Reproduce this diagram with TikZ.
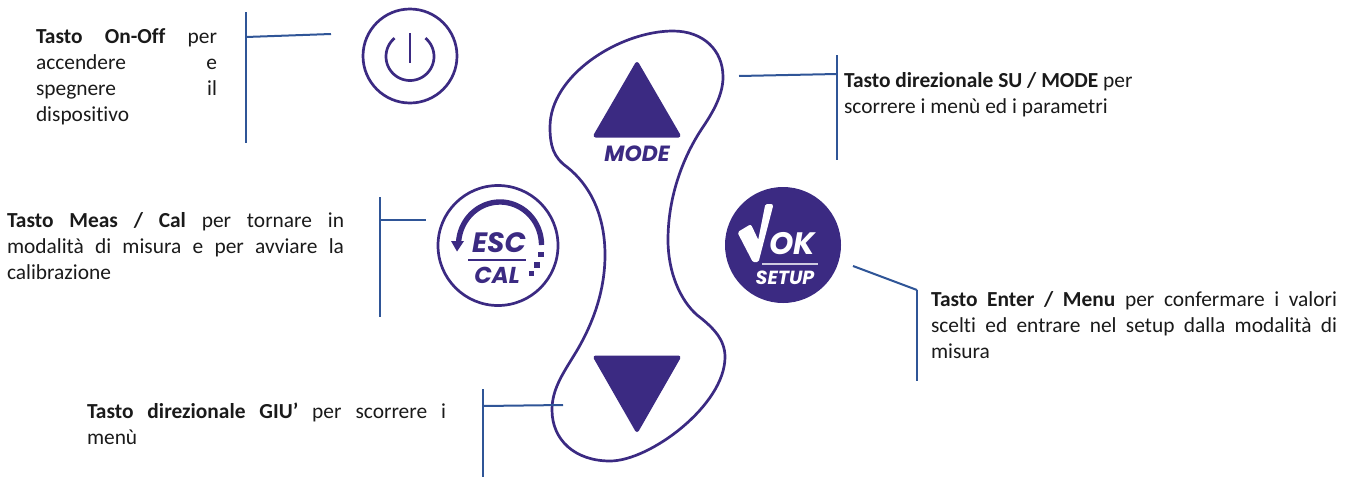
\documentclass[tikz,border=0pt]{standalone}
\usepackage{fontspec}
\setmainfont{Carlito}[Ligatures=NoCommon]
\newfontfamily\iconf{Poppins}
\usetikzlibrary{calc}
\definecolor{ink}{HTML}{3B2A82}
\definecolor{leader}{HTML}{2F5597}
\definecolor{txt}{HTML}{1A1A1A}
\tikzset{
  leaderline/.style={draw=leader,line width=1pt},
  outline/.style={draw=ink,line width=1.35pt},
  solidtri/.style={fill=ink,draw=ink,line width=2pt,line join=round},
  label/.style={anchor=north west,inner sep=0pt,outer sep=0pt,font=\fontsize{10.7}{13}\selectfont,text=txt,align=justify},
  icon/.style={inner sep=0pt}
}
\begin{document}
\begin{tikzpicture}[x=0.5pt,y=-0.5pt]
\useasboundingbox (0,0) rectangle (1354,477);
\hyphenpenalty=10000
% outline
\draw[outline] (673,31) .. controls (703,31) and (723,50) .. (723,77)
 .. controls (723,95) and (713,112) .. (703,127)
 .. controls (684,155) and (668,195) .. (668,240)
 .. controls (668,272) and (680,300) .. (697,315)
 .. controls (714,328) and (725,340) .. (725,357)
 .. controls (725,405) and (650,461) .. (610,461)
 .. controls (575,461) and (552,440) .. (552,410)
 .. controls (552,390) and (562,375) .. (573,357)
 .. controls (590,330) and (605,295) .. (605,255)
 .. controls (605,215) and (590,185) .. (567,167)
 .. controls (553,157) and (550,145) .. (550,127)
 .. controls (550,75) and (620,31) .. (673,31) -- cycle;
% triangles
\draw[solidtri] (637,64) -- (595.5,135.5) -- (678.5,135.5) -- cycle;
\draw[solidtri] (595.5,357.5) -- (678.5,357.5) -- (637,430) -- cycle;
\node[icon,font=\iconf\bfseries\itshape\fontsize{11}{11}\selectfont,text=ink] (mode) at (637,154) {MODE};
% power
\coordinate (pw) at (410,56);
\draw[outline] (pw) circle[radius=47];
\draw[outline] plot[domain=-50:230,samples=60] ({410+24*cos(\x)},{56.5+24*sin(\x)});
\draw[outline] (410,33) -- (410,63);
% esc
\coordinate (es) at (498,245.5);
\draw[outline] (es) circle[radius=60];
\draw[draw=ink,line width=2.7pt] plot[domain=0:-178,samples=60] ({500+41.5*cos(\x)},{245+43*sin(\x)});
\fill[ink] (451,241) -- (464,241) -- (457,251.5) -- cycle;
\fill[ink] (538,251.5) rectangle (544,257);
\fill[ink] (534,262) rectangle (540,268);
\fill[ink] (529,270.5) rectangle (534,275.5);
\node[icon,font=\iconf\bfseries\itshape\fontsize{14}{14}\selectfont,text=ink] (esc) at (499,243) {ESC};
\coordinate (ra) at (468,260); \coordinate (rb) at (526,260);
\draw[draw=ink,line width=1pt] (ra) -- (rb);
\node[icon,font=\iconf\bfseries\itshape\fontsize{11.5}{11.5}\selectfont,text=ink] (cal) at (497,275) {CAL};
% ok
\coordinate (ok) at (783,245);
\fill[ink] (ok) circle[radius=58];
\draw[fill=white,draw=white,line width=2pt,line join=round] (740,233) -- (750,227) -- (759,246) -- (767,206) -- (771,206) -- (757,260) -- (754,260) -- cycle;
\node[icon,font=\iconf\bfseries\itshape\fontsize{15.5}{15.5}\selectfont,text=white] (okt) at (792,244) {OK};
\coordinate (sa) at (762,264); \coordinate (sb) at (818,264);
\draw[draw=white!75!ink,line width=1pt] (sa) -- (sb);
\node[icon,font=\iconf\bfseries\itshape\fontsize{9.5}{9.5}\selectfont,text=white] (setup) at (785,278) {SETUP};
% leaders
\coordinate (a1) at (246,12); \coordinate (a2) at (246,143); \coordinate (a3) at (246,37); \coordinate (a4) at (331,34);
\draw[leaderline] (a1) -- (a2); \draw[leaderline] (a3) -- (a4);
\coordinate (b1) at (380,197); \coordinate (b2) at (380,317); \coordinate (b3) at (380,220); \coordinate (b4) at (426,220);
\draw[leaderline] (b1) -- (b2); \draw[leaderline] (b3) -- (b4);
\coordinate (c1) at (483,389); \coordinate (c2) at (483,477); \coordinate (c3) at (483,406); \coordinate (c4) at (563,405);
\draw[leaderline] (c1) -- (c2); \draw[leaderline] (c3) -- (c4);
\coordinate (d1) at (837,55); \coordinate (d2) at (837,160); \coordinate (d3) at (739,76); \coordinate (d4) at (837,74);
\draw[leaderline] (d1) -- (d2); \draw[leaderline] (d3) -- (d4);
\coordinate (e1) at (917,290); \coordinate (e2) at (917,381); \coordinate (e3) at (853,266);
\draw[leaderline] (e1) -- (e2); \draw[leaderline] (e3) -- (e1);
% texts
\node[label,text width=90.5pt] (t1) at (36,29) {\textbf{Tasto On-Off} per\linebreak accendere e\linebreak spegnere il\linebreak dispositivo};
\node[label,text width=168.5pt] (t2) at (7,212) {\textbf{Tasto Meas / Cal} per tornare in\linebreak modalità di misura e per avviare la\linebreak calibrazione};
\node[label,text width=179.5pt] (t3) at (87,403) {\textbf{Tasto direzionale GIU’} per scorrere i\linebreak menù};
\node[label,text width=170pt] (t4) at (844,72) {\textbf{Tasto direzionale SU / MODE} per\\ scorrere i menù ed i parametri};
\node[label,text width=203pt] (t5) at (931,291) {\textbf{Tasto Enter / Menu} per confermare i valori\linebreak scelti ed entrare nel setup dalla modalità di\linebreak misura};
\end{tikzpicture}
\end{document}
